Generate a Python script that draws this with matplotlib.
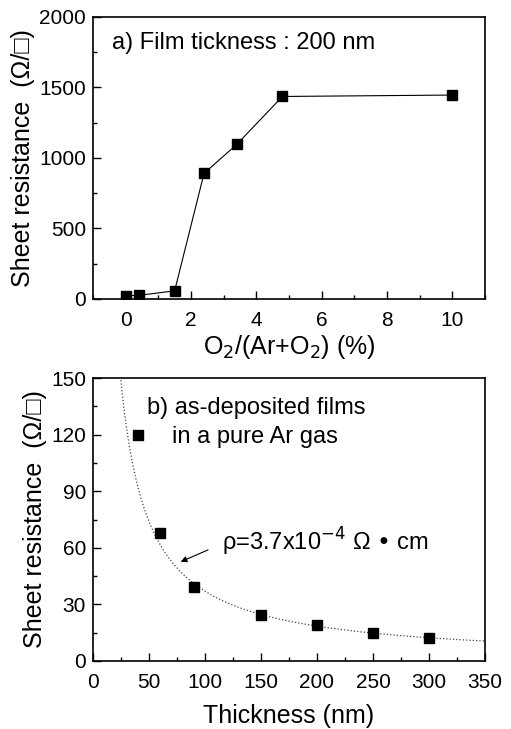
import numpy as np
import matplotlib
matplotlib.use("Agg")
import matplotlib.pyplot as plt
from matplotlib.ticker import MultipleLocator

plt.rcParams['font.family'] = ['Liberation Sans', 'DejaVu Sans']

# panel a: sheet resistance vs O2 fraction
o2_pct = [0, 0.4, 1.5, 2.4, 3.4, 4.8, 10]
rs_a = [23, 25, 57, 890, 1095, 1435, 1445]

# panel b: sheet resistance vs thickness (pure Ar)
thick = [40, 60, 90, 150, 200, 250, 300]
rs_b = [120, 68, 39, 24.5, 19, 15, 12]
rho = 3.7e-4  # ohm cm, fitted resistivity

fig = plt.figure(figsize=(5.11, 7.29), dpi=100)
ax1 = fig.add_axes([0.182, 0.590, 0.767, 0.387])
ax2 = fig.add_axes([0.182, 0.0933, 0.767, 0.388])

ylab = 'Sheet resistance  (\u03A9/\u25A1)'
lab_fs = 18
ann_fs = 17
tick_fs = 15

# top panel
ax1.plot(o2_pct, rs_a, '-', color='black', lw=0.8, marker='s', ms=6.5)
ax1.set_xlim(-1, 11)
ax1.set_ylim(0, 2000)
ax1.xaxis.set_major_locator(MultipleLocator(2))
ax1.xaxis.set_minor_locator(MultipleLocator(1))
ax1.yaxis.set_major_locator(MultipleLocator(500))
ax1.yaxis.set_minor_locator(MultipleLocator(250))
ax1.set_xlabel('O$_2$/(Ar+O$_2$) (%)', fontsize=lab_fs, labelpad=2)
ax1.set_ylabel(ylab, fontsize=lab_fs, labelpad=3)
ax1.text(-0.42, 1813, 'a) Film tickness : 200 nm', fontsize=ann_fs, va='center')

# bottom panel
t_fit = np.linspace(24, 350, 300)
ax2.plot(t_fit, rho / (t_fit * 1e-7), ':', color='#444444', lw=0.9)
ax2.plot(thick, rs_b, 's', color='black', ms=6.5)
ax2.set_xlim(0, 350)
ax2.set_ylim(0, 150)
ax2.xaxis.set_major_locator(MultipleLocator(50))
ax2.xaxis.set_minor_locator(MultipleLocator(25))
ax2.yaxis.set_major_locator(MultipleLocator(30))
ax2.yaxis.set_minor_locator(MultipleLocator(15))
ax2.set_xlabel('Thickness (nm)', fontsize=lab_fs, labelpad=8)
ax2.set_ylabel(ylab, fontsize=lab_fs, labelpad=3)
ax2.text(48, 134, 'b) as-deposited films', fontsize=ann_fs, va='center')
ax2.text(70.6, 119, 'in a pure Ar gas', fontsize=ann_fs, va='center')
ax2.annotate('', xy=(76, 52), xytext=(105, 59.5),
             arrowprops=dict(arrowstyle='-|>', color='black', lw=0.8,
                             mutation_scale=9))
ax2.text(115, 63, '\u03C1=3.7x10$^{-4}$ \u03A9 \u2022 cm', fontsize=ann_fs, va='center')

for ax in (ax1, ax2):
    ax.tick_params(which='both', direction='in', top=False, right=False,
                   labelsize=tick_fs, width=1)
    ax.tick_params(which='major', length=6, pad=5)
    ax.tick_params(which='minor', length=3)
    ax.tick_params(axis='x', which='major', pad=9)
    for s in ax.spines.values():
        s.set_linewidth(1.2)

fig.savefig('out.png', dpi=100)
